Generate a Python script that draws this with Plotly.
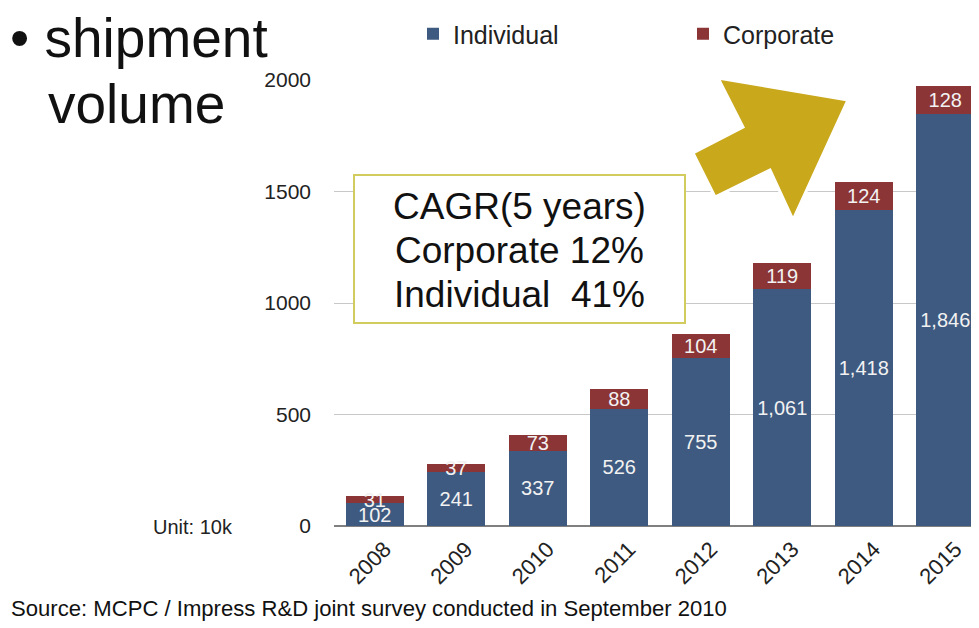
import plotly.graph_objects as go

years = ["2008", "2009", "2010", "2011", "2012", "2013", "2014", "2015"]
individual = [102, 241, 337, 526, 755, 1061, 1418, 1846]
corporate = [31, 37, 73, 88, 104, 119, 124, 128]
y_ticks = [0, 500, 1000, 1500, 2000]

COL_IND = "#3e5a80"
COL_CORP = "#8b3536"
FONT = "Liberation Sans, Arial, sans-serif"

# the page body has an 8px margin; lay out in reference-pixel coordinates
OFF = 8
W, H = 979 - OFF, 628 - OFF
PLOT_L, PLOT_T, PLOT_B = 334, 80, 526          # reference pixels
L, T = PLOT_L - OFF, PLOT_T - OFF
B = H - (PLOT_B - OFF)
R = 0
PW, PH = W - L - R, H - T - B


def px(x):
    return (x - PLOT_L) / PW


def py(y):
    return (PLOT_B - y) / PH


fig = go.Figure()
for name, vals, col in (("Individual", individual, COL_IND), ("Corporate", corporate, COL_CORP)):
    fig.add_trace(go.Bar(
        x=years, y=vals, name=name,
        marker=dict(color=col, line=dict(width=0)),
        texttemplate="%{y:,.0f}", textposition="inside", insidetextanchor="middle",
        textangle=0, constraintext="none",
        textfont=dict(color="#f2f2f2", size=20, family=FONT),
    ))

shapes = []
shapes.append(dict(type="rect", xref="paper", yref="paper",
                   x0=px(354), x1=px(685), y0=py(323), y1=py(175),
                   line=dict(color="#d2cc5e", width=2), fillcolor="white", layer="above"))
pts = [(848, 100), (718, 78), (743, 127), (693, 153), (715, 197), (770, 170), (793, 220)]
path = "M " + " L ".join(f"{px(a):.5f},{py(b):.5f}" for a, b in pts) + " Z"
shapes.append(dict(type="path", xref="paper", yref="paper", path=path,
                   fillcolor="#c9a81c", line=dict(color="white", width=3), layer="above"))


def note(text, x, y, size, anchor="left", color="#111"):
    return dict(text=text, x=px(x), y=py(y), xref="paper", yref="paper",
                xanchor=anchor, yanchor="middle", showarrow=False,
                font=dict(size=size, color=color, family=FONT))


annotations = [
    note("\u2022 shipment", 8, 38, 55),
    note("volume", 46, 104, 55),
    note("CAGR(5 years)", 519, 206, 37, "center"),
    note("Corporate 12%", 519, 250, 37, "center"),
    note("Individual\u00a0 41%", 519, 294, 37, "center"),
    note("Unit: 10k", 193, 527, 20, "center", "#222"),
    note("Source: MCPC / Impress R&D joint survey conducted in September 2010", 9, 608, 22.1),
]

fig.update_layout(
    width=W, height=H,
    margin=dict(l=L, r=R, t=T, b=B, pad=0),
    barmode="stack", bargap=0.288,
    plot_bgcolor="white", paper_bgcolor="white",
    font=dict(family=FONT, color="#222"),
    showlegend=True,
    legend=dict(orientation="h", x=px(413), y=py(11), xanchor="left", yanchor="top",
                entrywidth=225, entrywidthmode="pixels", traceorder="normal",
                font=dict(size=25, color="#222", family=FONT), bgcolor="rgba(0,0,0,0)"),
    xaxis=dict(type="category", range=[-0.5, 7.414], tickangle=-45,
               tickfont=dict(size=22, color="#222", family=FONT),
               showgrid=False, showline=False, ticks="",
               ticklabelshift=10, ticklabelstandoff=5),
    yaxis=dict(range=[0, 2000], tickvals=y_ticks, ticktext=[str(v) for v in y_ticks],
               tickfont=dict(size=21, color="#222", family=FONT),
               showgrid=True, gridcolor="#c8c8c8", gridwidth=1,
               zeroline=True, zerolinecolor="#808080", zerolinewidth=2,
               showline=False, ticks="", ticklabelstandoff=22),
    shapes=shapes,
    annotations=annotations,
)

fig.write_html("out.html")
